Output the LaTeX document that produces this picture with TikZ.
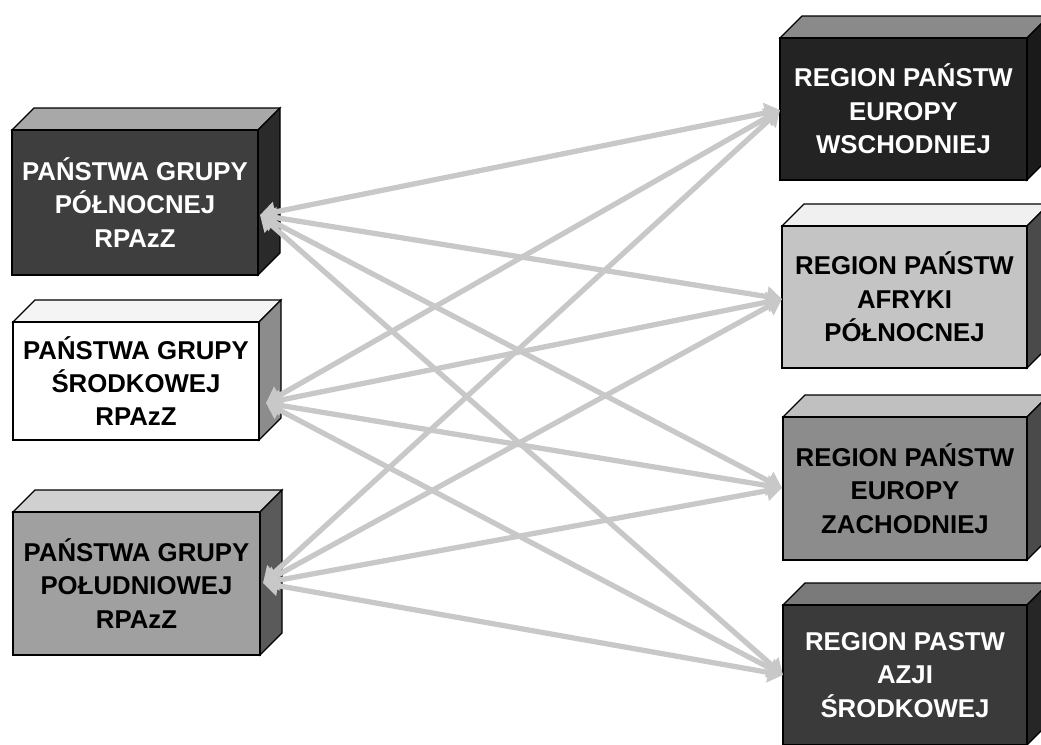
\documentclass[tikz,border=0pt]{standalone}
\usepackage{fontspec}
\setmainfont{Liberation Sans}
\usepackage{tikz}
\usetikzlibrary{arrows.meta,fit}
\definecolor{linkgray}{RGB}{200,200,200}
% box colours: front, top, side, text
\definecolor{pnFront}{RGB}{62,62,62}\definecolor{pnTop}{RGB}{168,168,168}\definecolor{pnSide}{RGB}{42,42,42}\definecolor{pnText}{RGB}{255,255,255}
\definecolor{srFront}{RGB}{255,255,255}\definecolor{srTop}{RGB}{244,244,244}\definecolor{srSide}{RGB}{140,140,140}\definecolor{srText}{RGB}{0,0,0}
\definecolor{pdFront}{RGB}{160,160,160}\definecolor{pdTop}{RGB}{208,208,208}\definecolor{pdSide}{RGB}{90,90,90}\definecolor{pdText}{RGB}{0,0,0}
\definecolor{ewFront}{RGB}{35,35,35}\definecolor{ewTop}{RGB}{138,138,138}\definecolor{ewSide}{RGB}{26,26,26}\definecolor{ewText}{RGB}{255,255,255}
\definecolor{anFront}{RGB}{196,196,196}\definecolor{anTop}{RGB}{240,240,240}\definecolor{anSide}{RGB}{74,74,74}\definecolor{anText}{RGB}{0,0,0}
\definecolor{ezFront}{RGB}{140,140,140}\definecolor{ezTop}{RGB}{192,192,192}\definecolor{ezSide}{RGB}{74,74,74}\definecolor{ezText}{RGB}{0,0,0}
\definecolor{azFront}{RGB}{58,58,58}\definecolor{azTop}{RGB}{122,122,122}\definecolor{azSide}{RGB}{38,38,38}\definecolor{azText}{RGB}{255,255,255}
\tikzset{
  boxline/.style={draw=black,line width=1pt},
  boxtext/.style={font=\bfseries\fontsize{22}{28.5}\selectfont,align=center,inner sep=0pt},
  link/.style={draw=linkgray,line width=4.5pt,{Triangle[length=13pt,width=17pt]}-{Triangle[length=13pt,width=17pt]}}
}
% \crate{name}{x1}{y1}{x2}{y2}{colour prefix}{text}
\newcommand{\crate}[7]{%
  \filldraw[boxline,fill=#6Top] (#2,#3) -- (#2+22,#3-22) -- (#4+22,#3-22) -- (#4,#3) -- cycle;
  \filldraw[boxline,fill=#6Side] (#4,#3) -- (#4+22,#3-22) -- (#4+22,#5-22) -- (#4,#5) -- cycle;
  \path (#2,#3) coordinate (#1-a) (#4,#5) coordinate (#1-b);
  \node[boxline,fill=#6Front,fit=(#1-a)(#1-b),inner sep=0pt] (#1) {};
  \node[boxtext,text=#6Text] at (#1.center) {#7};
}
\begin{document}
\begin{tikzpicture}[x=0.03cm,y=-0.03cm]
\useasboundingbox (0,0) rectangle (1041,744);
\clip (0,0) rectangle (1041,744);
% left group
\crate{pn}{12}{130}{258}{275}{pn}{PAŃSTWA GRUPY\\PÓŁNOCNEJ\\RPAzZ}
\crate{sr}{13}{322}{259}{440}{sr}{PAŃSTWA GRUPY\\ŚRODKOWEJ\\RPAzZ}
\crate{pd}{13}{512}{260}{655}{pd}{PAŃSTWA GRUPY\\POŁUDNIOWEJ\\RPAzZ}
% right group
\crate{ew}{780}{38}{1027}{180}{ew}{REGION PAŃSTW\\EUROPY\\WSCHODNIEJ}
\crate{an}{782}{226}{1027}{368}{an}{REGION PAŃSTW\\AFRYKI\\PÓŁNOCNEJ}
\crate{ez}{783}{417}{1027}{560}{ez}{REGION PAŃSTW\\EUROPY\\ZACHODNIEJ}
\crate{az}{783}{605}{1027}{745}{az}{REGION PASTW\\AZJI\\ŚRODKOWEJ}
% arrow ends
\coordinate (pn-port) at (260,215);
\coordinate (sr-port) at (266,403);
\coordinate (pd-port) at (263,583);
\coordinate (ew-port) at (780,110);
\coordinate (an-port) at (782,299);
\coordinate (ez-port) at (782,488);
\coordinate (az-port) at (783,675);
\foreach \l in {pn,sr,pd}
  \foreach \r in {ew,an,ez,az}
    \draw[link] (\l-port) -- (\r-port);
\end{tikzpicture}
\end{document}
